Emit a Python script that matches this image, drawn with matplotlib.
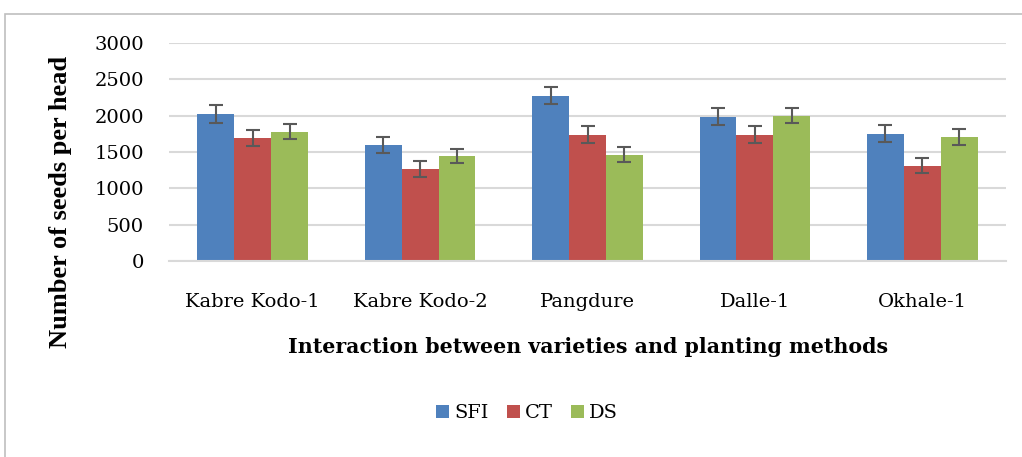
import matplotlib
matplotlib.use("Agg")
import matplotlib.pyplot as plt
import numpy as np
from matplotlib.patches import Rectangle

categories = ["Kabre Kodo-1", "Kabre Kodo-2", "Pangdure", "Dalle-1", "Okhale-1"]
series_names = ["SFI", "CT", "DS"]
sfi = [2028, 1601, 2277, 1987, 1753]
ct = [1693, 1261, 1739, 1739, 1311]
ds = [1780, 1445, 1463, 2001, 1711]
sfi_err = [125, 112, 113, 113, 112]
ct_err = [115, 110, 113, 113, 101]
ds_err = [101, 103, 103, 101, 112]
yticks = [0, 500, 1000, 1500, 2000, 2500, 3000]
colors = ["#4F81BD", "#C0504D", "#9BBB59"]

plt.rcParams['font.family'] = ['DejaVu Serif']

fig = plt.figure(figsize=(10.22, 4.57), dpi=100)
ax = fig.add_axes([169/1022, 1-261/457, (1006-169)/1022, (261-43)/457])

x = np.arange(len(categories))
w = 0.22
for i, (vals, errs, c, name) in enumerate(zip([sfi, ct, ds], [sfi_err, ct_err, ds_err], colors, series_names)):
    ax.bar(x + (i-1)*w, vals, w, color=c, label=name, zorder=2,
           yerr=errs, error_kw=dict(ecolor="#595959", elinewidth=1.5, capsize=4.7, capthick=1.5, zorder=3))

ax.set_xlim(-0.5, len(categories)-0.5)
ax.set_ylim(0, 3000)
ax.set_yticks(yticks)
ax.set_xticks(x)
ax.set_xticklabels(categories, fontsize=14)
ax.tick_params(axis='y', labelsize=14, length=0, pad=18)
ax.tick_params(axis='x', length=0, pad=23)
ax.grid(axis='y', color="#d9d9d9", linewidth=1.5, zorder=0)
ax.set_axisbelow(True)
for s in ["top", "right", "left"]:
    ax.spines[s].set_visible(False)
ax.spines["bottom"].set_color("#d9d9d9")
ax.spines["bottom"].set_linewidth(1.5)

fig.text(61/1022, 1-202/457, "Number of seeds per head", rotation=90, fontsize=19,
         fontweight='bold', ha='center', va='center', family=['Liberation Serif'])
fig.text(588/1022, 1-353/457, "Interaction between varieties and planting methods",
         fontsize=14.8, fontweight='bold', ha='center', va='baseline')

ax.legend(loc='center', bbox_to_anchor=(527/1022, 1-413/457), bbox_transform=fig.transFigure,
          ncol=3, frameon=False, fontsize=14, handlelength=0.67, handleheight=0.67,
          handletextpad=0.26, columnspacing=0.93, borderpad=0)

fig.patches.append(Rectangle((5/1022, -0.1), 1.2, 1-14/457+0.1, transform=fig.transFigure,
                             fill=False, edgecolor="#bfbfbf", linewidth=1.2))

fig.savefig("out.png", dpi=100)
